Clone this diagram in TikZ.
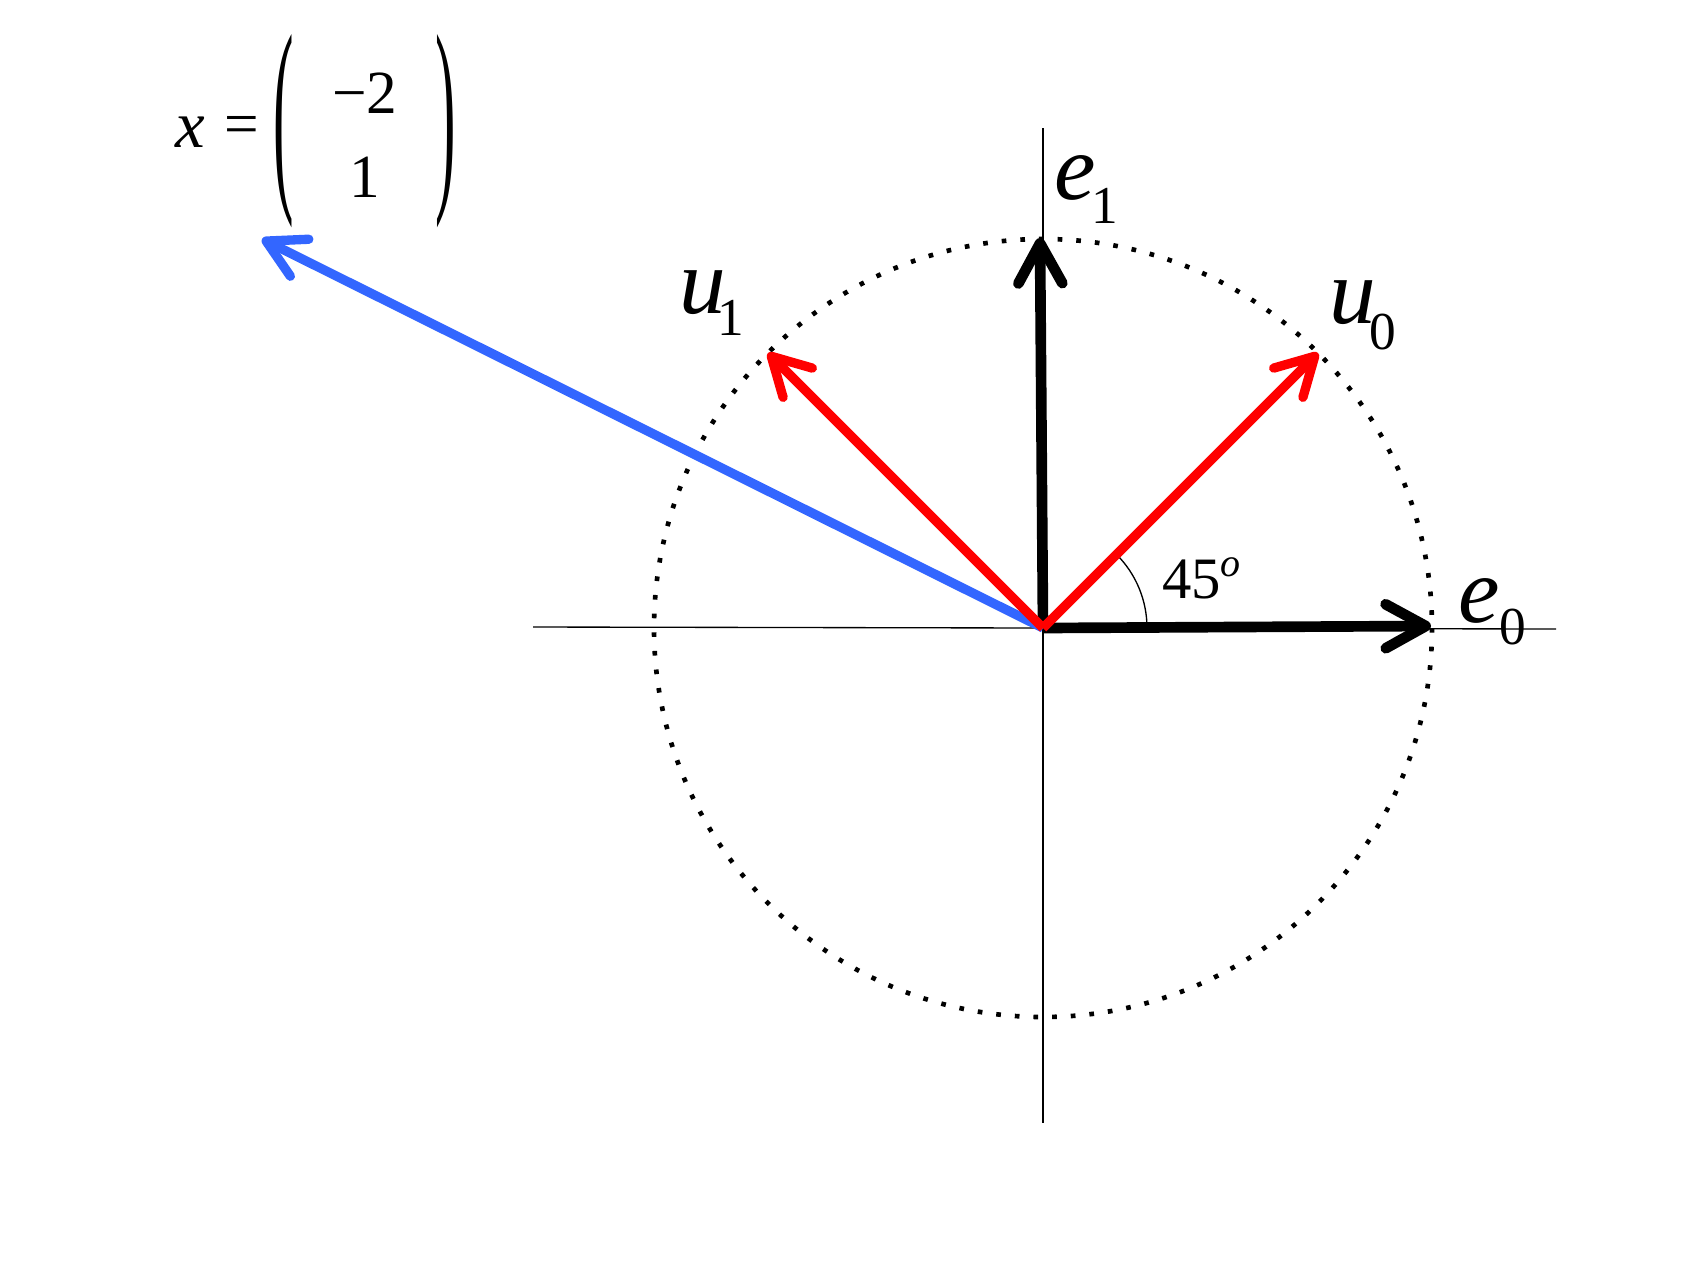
\documentclass[tikz,border=0pt]{standalone}
\usepackage{graphicx}
\usepackage{fontspec}
\setmainfont{Liberation Serif}
\usetikzlibrary{arrows.meta}
\definecolor{vecred}{RGB}{255,0,0}
\definecolor{vecblue}{RGB}{51,102,255}
\newcommand\bigsz{\fontsize{70pt}{70pt}\selectfont}
\newcommand\subsz{\fontsize{40pt}{40pt}\selectfont}
\newcommand\angsz{\fontsize{44pt}{44pt}\selectfont}
\newcommand\supsz{\fontsize{30pt}{30pt}\selectfont}
\newcommand\matsz{\fontsize{46pt}{46pt}\selectfont}
\begin{document}
\begin{tikzpicture}[x=0.75pt,y=-0.75pt,
  axisline/.style={line width=1pt,black},
  unitring/.style={line width=3.5pt,dash pattern=on 3.5pt off 10.5pt,black},
  blackvec/.style={line width=8pt,black,-{Straight Barb[length=30pt,width=33pt,round]}},
  redvec/.style={line width=7pt,vecred,-{Straight Barb[length=28pt,width=31pt,round]}},
  bluevec/.style={line width=7pt,vecblue,-{Straight Barb[length=28pt,width=31pt,round]}},
  anglearc/.style={line width=1pt,black},
  lbl/.style={inner sep=0pt,anchor=base west},
  mat/.style={inner sep=0pt}]
\fill[white] (0,0) rectangle (1687,1265);
\useasboundingbox (0,0) rectangle (1687,1265);
% coordinates
\coordinate (O) at (1043,628);
\coordinate (axL) at (533,627);
\coordinate (axR) at (1556,629);
\coordinate (axT) at (1043,128);
\coordinate (axB) at (1043,1123);
\coordinate (e0tip) at (1431,626);
\coordinate (e1tip) at (1040,238);
\coordinate (u0tip) at (1318,353);
\coordinate (u1tip) at (768,353);
\coordinate (xtip) at (262,239);
% axes
\draw[axisline] (axL) -- (axR);
\draw[axisline] (axT) -- (axB);
% unit circle
\draw[unitring] (O) circle[radius=389];
% angle arc
\draw[anglearc] (O) ++(104,0) arc[start angle=0,end angle=-45,radius=104];
% vectors
\draw[blackvec] (O) -- (e0tip);
\draw[blackvec] (O) -- (e1tip);
\draw[bluevec] (O) -- (xtip);
\draw[redvec] (O) -- (u0tip);
\draw[redvec] (O) -- (u1tip);
% labels
\node[lbl] (e1lbl) at (1054,199) {\bigsz\itshape e\kern-3pt\raisebox{-18pt}{\subsz\upshape 1}};
\node[lbl] (e0lbl) at (1458,622) {\bigsz\itshape e\kern0pt\raisebox{-17pt}{\subsz\upshape 0}};
\node[lbl] (u0lbl) at (1329,323) {\bigsz\itshape u\kern-5pt\raisebox{-20pt}{\subsz\upshape 0}};
\node[lbl] (u1lbl) at (679,313) {\bigsz\itshape u\kern-6pt\raisebox{-17pt}{\subsz\upshape 1}};
\node[lbl] (anglbl) at (1162,598) {\angsz 45\raisebox{16pt}{\supsz\itshape o}};
% vector x
\node[lbl] (xlbl) at (175,147) {\fontsize{50pt}{50pt}\selectfont\itshape x};
\node[mat] (eqlbl) at (241.5,130) {\matsz =};
\node[mat] (lpar) at (284,131.5) {\matsz\scalebox{1}[3.48]{(}};
\node[mat] (rpar) at (446,131.5) {\matsz\scalebox{1}[3.48]{)}};
\node[mat,anchor=base] (m1) at (365,113) {\matsz −2};
\node[mat,anchor=base] (m2) at (365,197) {\matsz 1};
\end{tikzpicture}
\end{document}
